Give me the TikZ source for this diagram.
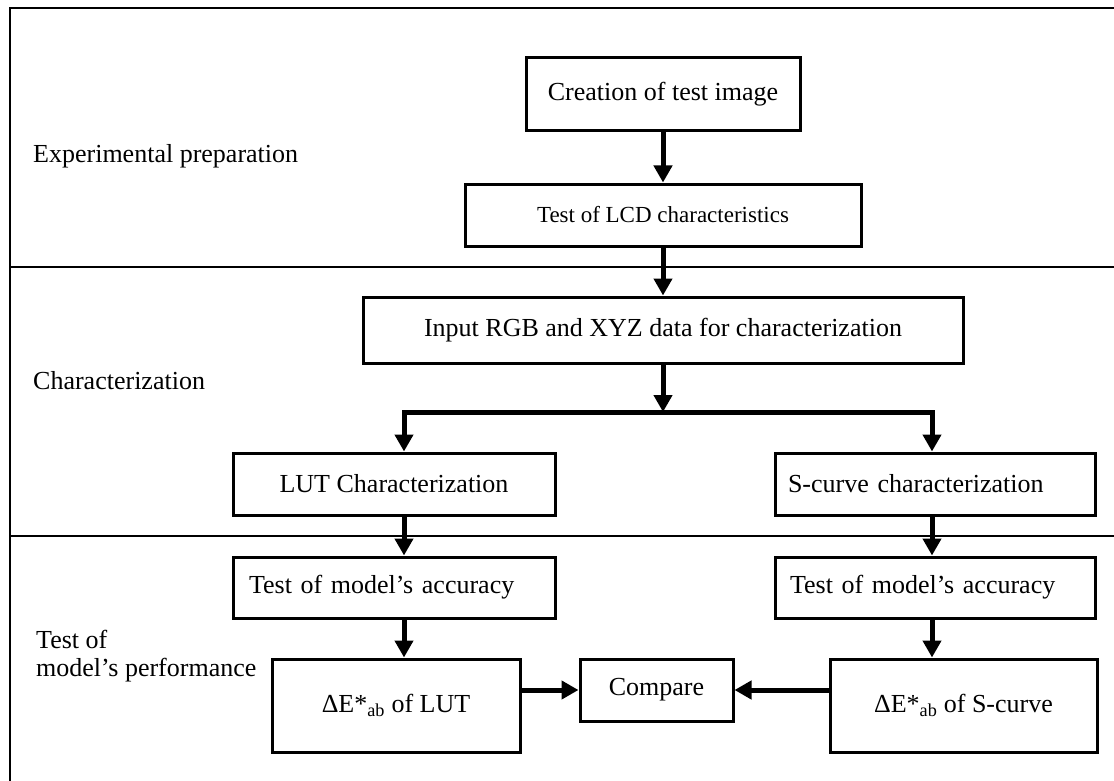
\documentclass[tikz,border=0pt]{standalone}
\usepackage{fontspec}
\setmainfont{Liberation Serif}
\usetikzlibrary{arrows.meta}
\tikzset{
  box/.style={draw=black, line width=3pt, fill=white, inner sep=0pt, align=center,
              font=\fontsize{26}{31}\selectfont},
  sectlabel/.style={anchor=base west, inner sep=0pt, font=\fontsize{26}{31}\selectfont},
  frameline/.style={line width=1.5pt, black},
  arr/.style={line width=5pt, -{Triangle[length=17pt,width=18pt]}},
  arrboth/.style={line width=5pt, line join=miter, {Triangle[length=17pt,width=18pt]}-{Triangle[length=17pt,width=18pt]}},
}
\begin{document}
\begin{tikzpicture}[x=1pt,y=-1pt]
\useasboundingbox (0,0) rectangle (1114,781);
% frame and separators
\draw[frameline] (10,781) -- (10,8) -- (1114,8);
\draw[frameline] (10,267) -- (1114,267);
\draw[frameline] (10,536) -- (1114,536);
% section labels
\node[sectlabel] (l1) at (33,163) {Experimental preparation};
\node[sectlabel] (l2) at (33,389) {Characterization};
\node[sectlabel] (l3a) at (36,648) {Test of};
\node[sectlabel] (l3b) at (36,676) {model’s performance};
% boxes
\node[box, minimum width=274pt, minimum height=73pt] (create) at (663,94.5) {Creation of test image};
\node[box, minimum width=396pt, minimum height=62pt, font=\fontsize{23}{28}\selectfont] (lcd) at (663,215) {Test of LCD characteristics};
\node[box, minimum width=600pt, minimum height=66pt] (input) at (663,330) {Input RGB and XYZ data for characterization};
\node[box, minimum width=322pt, minimum height=62pt] (lut) at (394,484) {LUT Characterization};
\node[box, minimum width=320pt, minimum height=62pt, text width=294pt, inner xsep=13pt, align=left] (scurve) at (935,484) {S-curve characterization};
\node[box, minimum width=322pt, minimum height=61pt, text width=290pt, inner xsep=16pt, align=left] (accL) at (394,587.5) {Test of model’s accuracy};
\node[box, minimum width=320pt, minimum height=61pt, text width=290pt, inner xsep=15pt, align=left] (accR) at (935,587.5) {Test of model’s accuracy};
\node[box, minimum width=248pt, minimum height=93pt] (deL) at (396,705.5) {ΔE*\textsubscript{ab} of LUT};
\node[box, minimum width=153pt, minimum height=62pt] (cmp) at (656.5,690) {Compare};
\node[box, minimum width=267pt, minimum height=93pt] (deR) at (963.5,705.5) {ΔE*\textsubscript{ab} of S-curve};
% connectors
\coordinate (j) at (663,412);
\coordinate (bl) at (404,412);
\coordinate (br) at (932,412);
\draw[arr] (create) -- (lcd);
\draw[arr] (lcd) -- (input);
\draw[arr] (input) -- (j);
\draw[arrboth] (bl |- lut.north) -- (bl) -- (br) -- (br |- scurve.north);
\draw[arr] (bl |- lut.south) -- (bl |- accL.north);
\draw[arr] (bl |- accL.south) -- (bl |- deL.north);
\draw[arr] (br |- scurve.south) -- (br |- accR.north);
\draw[arr] (br |- accR.south) -- (br |- deR.north);
\draw[arr] (deL.east |- cmp) -- (cmp.west);
\draw[arr] (deR.west |- cmp) -- (cmp.east);
\end{tikzpicture}
\end{document}
